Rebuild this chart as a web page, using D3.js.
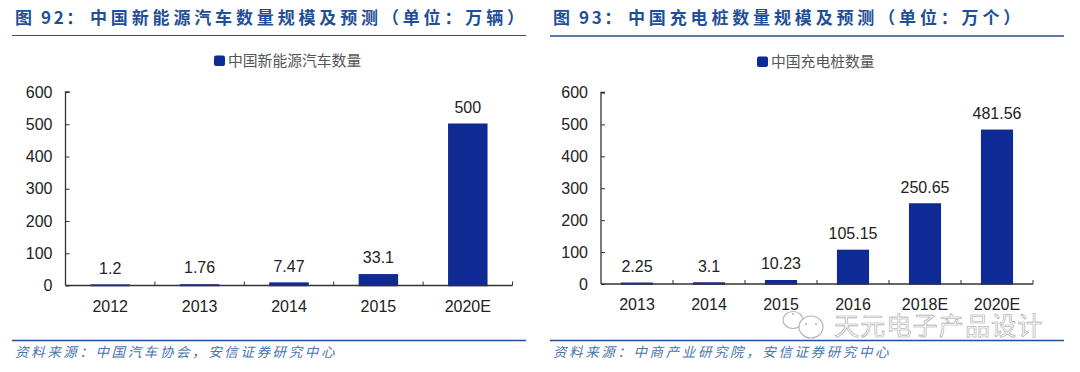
<!DOCTYPE html>
<html>
<head>
<meta charset="utf-8">
<script src="https://cdnjs.cloudflare.com/ajax/libs/d3/7.8.5/d3.min.js"></script>
<style>
  html, body { margin: 0; padding: 0; background: #fff; }
  svg { display: block; }
  text { font-family: "Liberation Sans", Arial, sans-serif; }
  .cjk { font-family: "Noto Sans CJK SC", sans-serif; }
</style>
</head>
<body>
<svg id="chart" width="1080" height="372"></svg>
<script>
const tickLabels = [0, 100, 200, 300, 400, 500, 600];

const evYears = ["2012", "2013", "2014", "2015", "2020E"];
const evValues = [1.2, 1.76, 7.47, 33.1, 500];
const evLabels = ["1.2", "1.76", "7.47", "33.1", "500"];

const pileYears = ["2013", "2014", "2015", "2016", "2018E", "2020E"];
const pileValues = [2.25, 3.1, 10.23, 105.15, 250.65, 481.56];
const pileLabels = ["2.25", "3.1", "10.23", "105.15", "250.65", "481.56"];

const svg = d3.select("#chart");
const barColor = "#0e2a94";
const headColor = "#1f4f96";

function drawPanel(o) {
    const g = svg.append("g");

    // title and rules
    g.append("text").attr("class", "cjk")
        .attr("x", o.titleX).attr("y", 24)
        .attr("font-size", 17).attr("font-weight", 700)
        .attr("letter-spacing", 2.6)
        .attr("fill", headColor)
        .text(o.titleNo);

    g.append("text").attr("class", "cjk")
        .attr("x", o.titleX + 75).attr("y", 24)
        .attr("font-size", 17).attr("font-weight", 700)
        .attr("letter-spacing", 3.85)
        .attr("fill", headColor)
        .text(o.title);

    g.append("line")
        .attr("x1", o.ruleX).attr("x2", o.ruleX + 514)
        .attr("y1", o.ruleTop).attr("y2", o.ruleTop)
        .attr("stroke", headColor).attr("stroke-width", o.ruleTopWidth);

    g.append("line")
        .attr("x1", o.ruleX).attr("x2", o.ruleX + 514)
        .attr("y1", 340.5).attr("y2", 340.5)
        .attr("stroke", headColor).attr("stroke-width", 1.6);

    g.append("text").attr("class", "cjk")
        .attr("x", o.sourceX).attr("y", 357)
        .attr("font-size", 13.5).attr("font-style", "italic")
        .attr("letter-spacing", 2.6)
        .attr("fill", "#4a74ad")
        .text(o.source);

    // legend
    g.append("rect")
        .attr("x", o.legendX).attr("y", o.legendY)
        .attr("width", 11).attr("height", 10.5).attr("rx", 2)
        .attr("fill", barColor);
    g.append("text").attr("class", "cjk")
        .attr("x", o.legendX + 14).attr("y", o.legendY + 10.5)
        .attr("font-size", 14.8).attr("fill", "#555")
        .text(o.legend);

    // scales
    const x = d3.scaleBand()
        .domain(o.categories)
        .range([o.left, o.right])
        .paddingInner(0.575).paddingOuter(0.2875);
    const y = d3.scaleLinear().domain([0, 600]).range([o.y0, o.y600]);

    // bars
    g.selectAll("rect.bar")
        .data(o.values)
        .enter().append("rect")
        .attr("class", "bar")
        .attr("x", (d, i) => x(o.categories[i]))
        .attr("y", d => y(d))
        .attr("width", x.bandwidth())
        .attr("height", d => y(0) - y(d))
        .attr("fill", barColor)
        .attr("stroke", barColor)
        .attr("stroke-width", 1.5);

    // value labels
    g.selectAll("text.val")
        .data(o.values)
        .enter().append("text")
        .attr("class", "val")
        .attr("x", (d, i) => x(o.categories[i]) + x.bandwidth() / 2)
        .attr("y", d => y(d) - 11.5)
        .attr("text-anchor", "middle")
        .attr("font-size", 16).attr("fill", "#222")
        .text((d, i) => o.labels[i]);

    // y axis
    const yAxis = d3.axisLeft(y).tickValues(tickLabels).tickSize(3).tickPadding(10);
    const ya = g.append("g").attr("transform", "translate(" + o.left + ",0)").call(yAxis);
    ya.selectAll("line").attr("x1", 4).attr("x2", 0).attr("stroke", "#333");
    ya.select(".domain").attr("d", "M4," + o.y600 + "H0V" + o.y0).attr("stroke", "#333").attr("stroke-width", 1.3);
    ya.selectAll("text").attr("font-size", 16).attr("fill", "#222")
        .style("font-family", "'Liberation Sans', Arial, sans-serif");

    // x axis, ticks sit between the categories
    const xa = g.append("g").attr("transform", "translate(0," + o.y0 + ")");
    xa.append("line")
        .attr("x1", o.left).attr("x2", o.right)
        .attr("stroke", "#333").attr("stroke-width", 1.3);
    const step = x.step();
    xa.selectAll("line.tick")
        .data(o.categories)
        .enter().append("line")
        .attr("class", "tick")
        .attr("x1", d => x(d) + x.bandwidth() / 2 + step / 2)
        .attr("x2", d => x(d) + x.bandwidth() / 2 + step / 2)
        .attr("y1", -4).attr("y2", 0)
        .attr("stroke", "#333");
    xa.selectAll("text")
        .data(o.categories)
        .enter().append("text")
        .attr("x", d => x(d) + x.bandwidth() / 2)
        .attr("y", 26)
        .attr("text-anchor", "middle")
        .attr("font-size", 16).attr("fill", "#222")
        .text(d => d);
}

drawPanel({
    titleNo: "图 92\uFF1A",
    title: "中国新能源汽车数量规模及预测\uFF08单位\uFF1A万辆\uFF09",
    titleX: 15,
    ruleX: 12, ruleTop: 35.5, ruleTopWidth: 1,
    source: "资料来源\uFF1A中国汽车协会\uFF0C安信证券研究中心",
    sourceX: 15,
    legend: "中国新能源汽车数量",
    legendX: 214, legendY: 55.5,
    categories: evYears, values: evValues, labels: evLabels,
    left: 65.5, right: 512.5, y0: 285.5, y600: 92
});

drawPanel({
    titleNo: "图 93\uFF1A",
    title: "中国充电桩数量规模及预测\uFF08单位\uFF1A万个\uFF09",
    titleX: 553,
    ruleX: 550, ruleTop: 36, ruleTopWidth: 1.6,
    source: "资料来源\uFF1A中商产业研究院\uFF0C安信证券研究中心",
    sourceX: 553,
    legend: "中国充电桩数量",
    legendX: 757, legendY: 56.5,
    categories: pileYears, values: pileValues, labels: pileLabels,
    left: 601, right: 1033, y0: 284, y600: 92.5
});

// watermark
const wm = svg.append("g");
wm.append("text").attr("class", "cjk")
    .attr("x", 834).attr("y", 335)
    .attr("font-size", 25).attr("letter-spacing", 1.2)
    .attr("fill", "#fff").attr("stroke", "#a5a5a5").attr("stroke-width", 0.6)
    .attr("fill-opacity", 0.85)
    .text("天元电子产品设计");
wm.append("ellipse").attr("cx", 793).attr("cy", 320).attr("rx", 10).attr("ry", 8.5)
    .attr("fill", "#fff").attr("stroke", "#b5b5b5").attr("stroke-width", 1.2);
wm.append("ellipse").attr("cx", 811).attr("cy", 327).attr("rx", 12).attr("ry", 11)
    .attr("fill", "#fff").attr("stroke", "#b5b5b5").attr("stroke-width", 1.2);
wm.selectAll("circle.eye")
    .data([[793, 314], [806, 324], [816, 324]])
    .enter().append("circle")
    .attr("class", "eye")
    .attr("cx", d => d[0]).attr("cy", d => d[1]).attr("r", 1.1)
    .attr("fill", "#b5b5b5");
</script>
</body>
</html>
